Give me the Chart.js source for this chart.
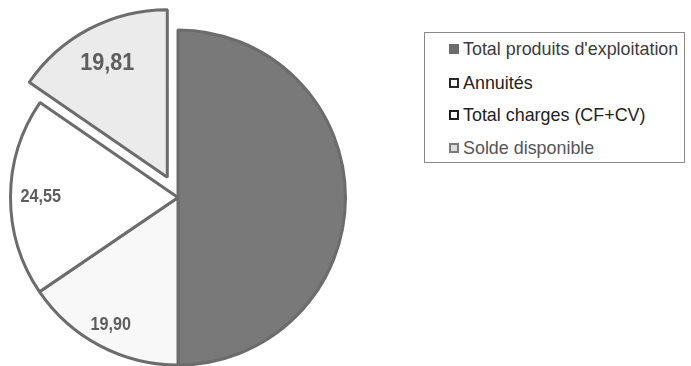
<!DOCTYPE html>
<html>
<head>
<meta charset="utf-8">
<script src="https://cdn.jsdelivr.net/npm/chart.js@4"></script>
<style>
  html, body { margin: 0; padding: 0; background: #fff; width: 691px; height: 366px; overflow: hidden; }
  #pieBox { position: absolute; left: 0; top: 0; width: 400px; height: 400px; }
  #legend {
    position: absolute; left: 424px; top: 32px; width: 261px; height: 131px;
    border: 1px solid #8a8a8a; box-sizing: border-box;
    font-family: "Liberation Sans", Arial, sans-serif; font-size: 17.9px;
  }
  #legend .item { position: absolute; left: 24px; height: 20px; line-height: 20px; display: flex; align-items: center; white-space: nowrap; }
  #legend .sw { width: 10px; height: 10px; box-sizing: border-box; margin-right: 4px; flex: none; }
</style>
</head>
<body>
<div id="pieBox"><canvas id="pie"></canvas></div>
<div id="legend"></div>
<script>
// Répartition des produits d'exploitation
const categories = ["Total produits d'exploitation", "Annuités", "Total charges (CF+CV)", "Solde disponible"];
const values = [64.26, 19.90, 24.55, 19.81];
// Texts printed on the slices (the first slice carries none)
const valueTexts = ["", "19,90", "24,55", "19,81"];

// Slice styling
const fills = ["#797979", "#f8f8f8", "#ffffff", "#ebebeb"];
const swatchFill = ["#6c6c6c", "#ffffff", "#ffffff", "#dcdcdc"];
const swatchBorder = ["#6c6c6c", "#2a2a2a", "#1e1e1e", "#7a7a7a"];
const legendInk = ["#3c3c3c", "#222222", "#222222", "#555555"];
const explode = [0, 0, 0, 23];           // pixels a slice is pulled out from the centre
const labelRadius = [0, 0.86, 0.82, 0.77];
const labelFont = [null, "bold 18px", "bold 18px", "bold 24px"];

// Pulls selected slices out along their middle angle, keeping their radius
const explodeSlices = {
  id: 'explodeSlices',
  afterDatasetUpdate(chart, args) {
    args.meta.data.forEach((arc, i) => {
      const d = explode[i];
      if (!d || arc._exploded) return;
      const baseDraw = arc.draw.bind(arc);
      arc.draw = function (ctx) {
        const mid = (this.startAngle + this.endAngle) / 2;
        ctx.save();
        ctx.translate(Math.cos(mid) * d, Math.sin(mid) * d);
        baseDraw(ctx);
        ctx.restore();
      };
      arc._exploded = true;
    });
  }
};

// Writes the values inside their slices
const sliceValues = {
  id: 'sliceValues',
  afterDatasetsDraw(chart) {
    const ctx = chart.ctx;
    const meta = chart.getDatasetMeta(0);
    meta.data.forEach((arc, i) => {
      const text = valueTexts[i];
      if (!text) return;
      const mid = (arc.startAngle + arc.endAngle) / 2;
      const r = arc.outerRadius * labelRadius[i] + explode[i];
      const x = arc.x + Math.cos(mid) * r;
      const y = arc.y + Math.sin(mid) * r;
      ctx.save();
      ctx.translate(x, y);
      ctx.scale(0.9, 1);
      ctx.font = labelFont[i] + ' "Liberation Sans", Arial, sans-serif';
      ctx.fillStyle = '#5e5e5e';
      ctx.textAlign = 'center';
      ctx.textBaseline = 'middle';
      ctx.fillText(text, 0, 0);
      ctx.restore();
    });
  }
};

new Chart(document.getElementById('pie'), {
  type: 'pie',
  data: {
    labels: categories,
    datasets: [{
      data: values,
      backgroundColor: fills,
      borderColor: '#6c6c6c',
      borderWidth: 3,
      hoverBorderWidth: 3,
      hoverOffset: 0,
      clip: false
    }]
  },
  options: {
    responsive: true,
    maintainAspectRatio: false,
    animation: false,
    events: [],
    layout: { padding: { left: 9, top: 28, right: 53, bottom: 33 } },
    plugins: {
      legend: { display: false },
      tooltip: { enabled: false }
    }
  },
  plugins: [explodeSlices, sliceValues]
});

// Legend box
const legend = document.getElementById('legend');
const rowCentres = [16, 50, 82, 115];
categories.forEach((name, i) => {
  const row = document.createElement('div');
  row.className = 'item';
  row.style.top = (rowCentres[i] - 10) + 'px';
  row.style.color = legendInk[i];
  const sw = document.createElement('span');
  sw.className = 'sw';
  sw.style.background = swatchFill[i];
  sw.style.border = (i === 0 ? 1 : 2) + 'px solid ' + swatchBorder[i];
  row.appendChild(sw);
  row.appendChild(document.createTextNode(name));
  legend.appendChild(row);
});
</script>
</body>
</html>
